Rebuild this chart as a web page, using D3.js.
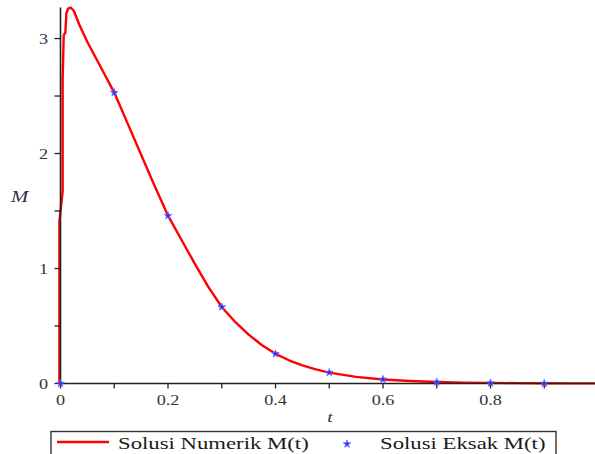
<!DOCTYPE html>
<html>
<head>
<meta charset="utf-8">
<script src="https://cdn.jsdelivr.net/npm/d3@7"></script>
<style>
  body { margin: 0; background: #fff; }
  text { font-family: "Liberation Serif"; }
</style>
</head>
<body>
<svg id="chart" width="595" height="454"></svg>
<script>
// Numeric solution M(t)
const numT = [-0.002, -0.002, 0.004, 0.004, 0.006, 0.009, 0.011, 0.014, 0.019, 0.025, 0.035, 0.05, 0.075,
  0.1, 0.125, 0.15, 0.175, 0.2, 0.225, 0.25, 0.275, 0.3, 0.325, 0.35, 0.375, 0.4, 0.425, 0.45, 0.475,
  0.5, 0.55, 0.6, 0.65, 0.7, 0.75, 0.8, 0.85, 0.9, 0.95, 1.0];
const numM = [0, 1.41, 1.67, 2.64, 3.03, 3.05, 3.22, 3.26, 3.27, 3.24, 3.12, 2.97, 2.75,
  2.53, 2.26, 1.99, 1.72, 1.46, 1.25, 1.04, 0.84, 0.665, 0.535, 0.425, 0.333, 0.258, 0.202, 0.158, 0.123,
  0.095, 0.058, 0.035, 0.022, 0.013, 0.008, 0.005, 0.003, 0.002, 0.0015, 0.001];

// Exact solution M(t) at the stars
const exactT = [0, 0.1, 0.2, 0.3, 0.4, 0.5, 0.6, 0.7, 0.8, 0.9];
const exactM = [0, 2.53, 1.46, 0.665, 0.258, 0.095, 0.036, 0.012, 0.004, 0.001];

const xTicks = [0, 0.2, 0.4, 0.6, 0.8];
const xMinor = [0.1, 0.3, 0.5, 0.7, 0.9];
const yTicks = [0, 1, 2, 3];
const yMinor = [0.5, 1.5, 2.5];
const legendLabels = ["Solusi Numerik M(t)", "Solusi Eksak M(t)"];

const svg = d3.select("#chart");
const x = d3.scaleLinear().domain([0, 1]).range([60.5, 598]);
const y = d3.scaleLinear().domain([0, 3.27]).range([383.5, 7.5]);
const axisColor = "#222";
const labelColor = "#2f3340";
const sx = 1.3; // the picture is wider than it is tall, text too

// text placed by transform so it can be stretched sideways
function place(sel, fx, fy) {
  return sel.attr("transform", (d, i) => `translate(${fx(d, i)},${fy(d, i)}) scale(${sx},1)`);
}

// numeric curve
const line = d3.line().x((d) => x(d[0])).y((d) => y(d[1]));
svg.append("path")
  .datum(numT.map((t, i) => [t, numM[i]]))
  .attr("d", line)
  .attr("fill", "none")
  .attr("stroke", "#ff0000")
  .attr("stroke-width", 2.4)
  .attr("stroke-linejoin", "round");

// axes
svg.append("line").attr("x1", x(0)).attr("x2", 595).attr("y1", y(0)).attr("y2", y(0))
  .attr("stroke", axisColor).attr("stroke-width", 1.6);
svg.append("line").attr("x1", x(0)).attr("x2", x(0)).attr("y1", y(0) + 1).attr("y2", y.range()[1])
  .attr("stroke", axisColor).attr("stroke-width", 1.6);

// x ticks
svg.selectAll(".xt").data(xTicks.concat(xMinor)).enter().append("line")
  .attr("x1", (d) => x(d)).attr("x2", (d) => x(d))
  .attr("y1", y(0)).attr("y2", y(0) + 5)
  .attr("stroke", axisColor).attr("stroke-width", 1.3);
svg.selectAll(".xl").data(xTicks).enter().append("text")
  .call(place, (d) => x(d), () => 405)
  .attr("text-anchor", "middle")
  .attr("font-size", 14)
  .attr("fill", labelColor)
  .text((d) => d3.format("")(d));

// y ticks
svg.selectAll(".yt").data(yTicks.concat(yMinor)).enter().append("line")
  .attr("x1", x(0) - 6).attr("x2", x(0))
  .attr("y1", (d) => y(d)).attr("y2", (d) => y(d))
  .attr("stroke", axisColor).attr("stroke-width", 1.3);
svg.selectAll(".yl").data(yTicks).enter().append("text")
  .call(place, () => 48, (d) => y(d) + 5)
  .attr("text-anchor", "end")
  .attr("font-size", 14)
  .attr("fill", labelColor)
  .text((d) => d);

// exact solution stars
const star = d3.symbol().type(d3.symbolStar).size(18);
svg.selectAll(".star").data(exactT.map((t, i) => [t, exactM[i]])).enter().append("path")
  .attr("d", star)
  .attr("transform", (d) => `translate(${x(d[0])},${y(d[1])})`)
  .attr("fill", "#2a2aff")
  .attr("stroke", "#6a6aff")
  .attr("stroke-width", 0.8);

// axis titles
svg.append("text").datum("M")
  .call(place, () => 11, () => 202)
  .attr("font-size", 16).attr("font-style", "italic").attr("fill", labelColor)
  .text((d) => d);
svg.append("text").datum("t")
  .call(place, () => 330, () => 422)
  .attr("font-size", 15).attr("font-style", "italic").attr("fill", labelColor)
  .attr("text-anchor", "middle")
  .text((d) => d);

// legend
const lg = svg.append("g");
lg.append("rect").attr("x", 51).attr("y", 431.5).attr("width", 505).attr("height", 40)
  .attr("fill", "none").attr("stroke", "#333").attr("stroke-width", 1.4);
lg.append("line").attr("x1", 57).attr("x2", 109).attr("y1", 442).attr("y2", 442)
  .attr("stroke", "#ff0000").attr("stroke-width", 2.4);
lg.append("path").attr("d", star).attr("transform", "translate(347,444)")
  .attr("fill", "#2a2aff").attr("stroke", "#6a6aff").attr("stroke-width", 0.8);
lg.selectAll(".lt").data(legendLabels).enter().append("text")
  .call(place, (d, i) => [118, 380][i], () => 448.5)
  .attr("font-size", 17.5).attr("fill", "#1a1a1a")
  .text((d) => d);
</script>
</body>
</html>
